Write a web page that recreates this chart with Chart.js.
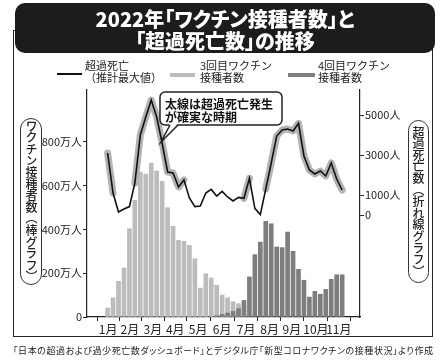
<!DOCTYPE html>
<html lang="ja">
<head>
<meta charset="utf-8">
<title>2022年「ワクチン接種者数」と「超過死亡数」の推移</title>
<script src="https://cdn.jsdelivr.net/npm/chart.js@4.4.0/dist/chart.umd.min.js"></script>
<style>
  body { margin: 0; background: #fff; font-family: "Noto Sans CJK JP", sans-serif; color: #222; }
  #wrap { position: relative; width: 441px; height: 360px; overflow: hidden; }
  #frame { position: absolute; left: 13px; top: 30px; width: 418px; height: 305px; border: 1.5px solid #222; }
  #chartBox { position: absolute; left: 0; top: 0; width: 441px; height: 360px; }
  #title {
    position: absolute; left: 15px; top: 3px; width: 420px; height: 50px;
    background: #1c1c1c; border-radius: 10px; color: #fff; font-weight: 900;
    font-size: 20px; line-height: 22.5px; text-align: center; padding-top: 4.5px;
    box-sizing: border-box; font-feature-settings: "palt";
  }
  .leg { position: absolute; top: 60px; font-size: 11px; line-height: 11.5px; white-space: nowrap; }
  .swatch { position: absolute; }
  .pill {
    position: absolute; border: 1px solid #333; border-radius: 11px;
    writing-mode: vertical-rl; font-size: 12px; line-height: 20px; font-weight: 500;
    text-align: center; box-sizing: border-box; letter-spacing: -0.4px; background: #fff;
  }
  #source {
    position: absolute; left: 13px; top: 345px; width: 420px; font-size: 9px;
    line-height: 12px; text-align: justify; text-align-last: justify;
    font-feature-settings: "palt"; white-space: nowrap;
  }
</style>
</head>
<body>
<div id="wrap">
  <div id="frame"></div>
  <div id="chartBox"><canvas id="chart"></canvas></div>
  <div id="title">2022年「ワクチン接種者数」と<br>「超過死亡数」の推移</div>

  <div class="swatch" style="left:57px;top:73px;width:25px;height:2px;background:#111"></div>
  <div class="leg" style="left:85px">超過死亡<br>（推計最大値）</div>
  <div class="swatch" style="left:170px;top:73px;width:25px;height:4px;background:#bcbcbc"></div>
  <div class="leg" style="left:200px">3回目ワクチン<br>接種者数</div>
  <div class="swatch" style="left:288px;top:73px;width:27px;height:4px;background:#7e7e7e"></div>
  <div class="leg" style="left:318px">4回目ワクチン<br>接種者数</div>

  <div class="pill" style="left:20px;top:118px;width:22px;height:167px">ワクチン接種者数（棒グラフ）</div>
  <div class="pill" style="left:408px;top:120px;width:21px;height:163px">超過死亡数（折れ線グラフ）</div>

  <div id="source">「日本の超過および過少死亡数ダッシュボード」とデジタル庁「新型コロナワクチンの接種状況」より作成</div>
</div>
<script>
// weekly values, 2022 (week 0 = first week of January)
const monthLabels = ["1月", "2月", "3月", "4月", "5月", "6月", "7月", "8月", "9月", "10月", "11月"];
const monthPos = [0.1, 4.1, 8.3, 12.4, 16.6, 21.0, 25.4, 29.7, 33.8, 38.2, 42.4];

// 3回目ワクチン接種者数 (万人)
const dose3 = [41, 87, 163, 224, 403, 533, 662, 653, 703, 667, 620, 499, 414, 350, 346, 327,
  266, 132, 198, 178, 145, 100, 88, 70, 61, 50];

// 4回目ワクチン接種者数 (万人)
const dose4 = [null, null, null, null, null, null, null, null, null, null, null, null, null, null,
  null, null, null, null, null, null, 6, 12, 18, 26, 38, 76, 183, 285, 342, 437, 426, 320, 317,
  388, 300, 218, 168, 91, 117, 104, 126, 172, 193, 193];

// 超過死亡 推計最大値 (人)
const excess = [3100, 1100, 150, 300, 420, 1600, 4000, 4900, 5750, 4900, 3600, 2150, 2100, 1400,
  1750, 850, 420, 450, 1100, 1280, 950, 1180, 900, 700, 880, 830, 1830, 330, 20, 1300, 2600,
  3950, 4250, 4300, 4200, 4580, 2950, 2250, 2050, 2200, 1950, 2600, 1800, 1250];

// weeks where excess deaths are certain (thick line)
const certain = [[0, 1], [5, 14], [25, 26], [29, 43]];

const leftTicks = [0, 200, 400, 600, 800];
const rightTicks = [0, 1000, 3000, 5000];

const toPoints = (arr) => arr.map((v, i) => ({ x: i, y: v }));
const halo = excess.map((v, i) => (certain.some(([a, b]) => i >= a && i <= b) ? v : null));

const tickFont = { family: "Noto Sans CJK JP", size: 11 };

const calloutPlugin = {
  id: "callout",
  afterDraw(chart) {
    const ctx = chart.ctx;
    ctx.save();
    ctx.lineWidth = 1.5;
    ctx.strokeStyle = "#222";
    ctx.fillStyle = "#fff";
    ctx.beginPath();
    ctx.roundRect(160, 92, 122, 33, 5);
    ctx.fill();
    ctx.stroke();
    // tail
    ctx.beginPath();
    ctx.moveTo(170, 123.5);
    ctx.lineTo(161, 142);
    ctx.lineTo(178, 123.5);
    ctx.closePath();
    ctx.fill();
    ctx.beginPath();
    ctx.moveTo(170, 125);
    ctx.lineTo(161, 142);
    ctx.lineTo(178, 125);
    ctx.stroke();
    ctx.fillStyle = "#111";
    ctx.font = 'bold 12px "Noto Sans CJK JP"';
    ctx.textBaseline = "middle";
    ctx.fillText("太線は超過死亡発生", 165, 104);
    ctx.fillText("が確実な時期", 165, 117.5);
    ctx.restore();
  },
};

new Chart(document.getElementById("chart"), {
  type: "bar",
  data: {
    datasets: [
      {
        type: "line",
        data: toPoints(excess),
        yAxisID: "y2",
        borderColor: "#111",
        borderWidth: 1.6,
        pointRadius: 0,
        tension: 0,
        order: 0,
      },
      {
        type: "line",
        data: toPoints(halo),
        yAxisID: "y2",
        borderColor: "#b3b3b3",
        borderWidth: 7,
        borderCapStyle: "round",
        borderJoinStyle: "round",
        pointRadius: 0,
        tension: 0,
        spanGaps: false,
        order: 1,
      },
      {
        data: toPoints(dose4),
        yAxisID: "y",
        backgroundColor: "#7e7e7e",
        barThickness: 4,
        grouped: false,
        order: 2,
      },
      {
        data: toPoints(dose3),
        yAxisID: "y",
        backgroundColor: "#bcbcbc",
        barThickness: 4,
        grouped: false,
        order: 3,
      },
    ],
  },
  options: {
    animation: false,
    responsive: true,
    maintainAspectRatio: false,
    layout: { padding: { top: 90, left: 0, right: 0, bottom: 0 } },
    plugins: { legend: { display: false }, tooltip: { enabled: false } },
    scales: {
      x: {
        type: "linear",
        min: -1.5,
        max: 44,
        afterBuildTicks: (scale) => { scale.ticks = monthPos.map((v) => ({ value: v })); },
        afterFit: (scale) => { scale.height = 43; },
        grid: { drawOnChartArea: false, tickLength: 4, color: "#222" },
        border: { display: true, color: "#222", width: 1.2 },
        ticks: {
          autoSkip: false,
          maxRotation: 0,
          padding: 1,
          color: "#222",
          font: { family: '"Liberation Sans Narrow", "Noto Sans CJK JP"', size: 12 },
          callback: (v, i) => monthLabels[i],
        },
      },
      y: {
        position: "left",
        min: 0,
        max: 1037,
        afterBuildTicks: (scale) => { scale.ticks = leftTicks.map((v) => ({ value: v })); },
        afterFit: (scale) => { scale.width = 87; },
        grid: { drawOnChartArea: false, tickLength: 4, color: "#222" },
        border: { display: true, color: "#222", width: 1.2 },
        ticks: {
          padding: 1,
          color: "#222",
          font: tickFont,
          callback: (v) => (v === 0 ? "0" : v + "万人"),
        },
      },
      y2: {
        position: "right",
        min: -5100,
        max: 6250,
        afterBuildTicks: (scale) => { scale.ticks = rightTicks.map((v) => ({ value: v })); },
        afterFit: (scale) => { scale.width = 81; },
        grid: { drawOnChartArea: false, tickLength: 4, color: "#222" },
        border: { display: true, color: "#222", width: 1.2 },
        ticks: {
          padding: 1,
          color: "#222",
          font: tickFont,
          callback: (v) => (v === 0 ? "0" : v + "人"),
        },
      },
    },
  },
  plugins: [calloutPlugin],
});
</script>
</body>
</html>
